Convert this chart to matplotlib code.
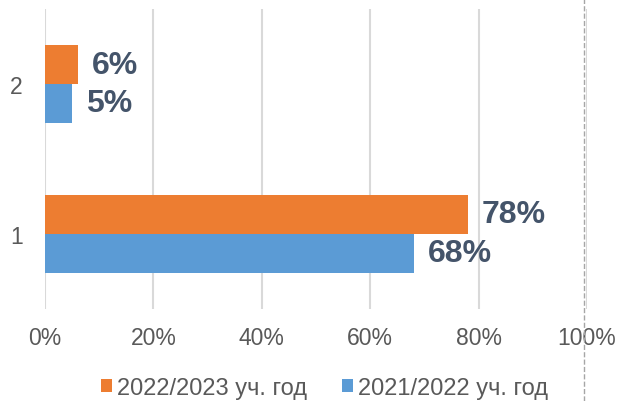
import matplotlib.pyplot as plt
from matplotlib.lines import Line2D

categories = ['1', '2']
vals_2022 = [78, 6]   # 2022/2023 уч. год
vals_2021 = [68, 5]   # 2021/2022 уч. год
labels = ['2022/2023 уч. год', '2021/2022 уч. год']
colors = ['#ED7D31', '#5B9BD5']

plt.rcParams['font.family'] = ['Liberation Sans', 'DejaVu Sans']

fig = plt.figure(figsize=(6.2, 4.02), dpi=100)
ax = fig.add_axes([45 / 620, 1 - 310 / 402, 542 / 620, 300 / 402])

y = range(len(categories))
h = 0.26
b1 = ax.barh([i + h / 2 for i in y], vals_2022, height=h, color=colors[0], label=labels[0], zorder=3)
b2 = ax.barh([i - h / 2 for i in y], vals_2021, height=h, color=colors[1], label=labels[1], zorder=3)

for bars, vals in ((b1, vals_2022), (b2, vals_2021)):
    for bar, v in zip(bars, vals):
        ax.annotate(f'{v}%', (bar.get_width(), bar.get_y() + bar.get_height() / 2),
                    xytext=(10, 0), textcoords='offset points', va='center', ha='left',
                    fontsize=23, fontweight='bold', color='#44546A')

ax.set_xlim(0, 100)
ax.set_ylim(-0.5, 1.5)
ax.set_xticks(range(0, 101, 20))
ax.set_xticklabels([f'{t}%' for t in range(0, 101, 20)])
ax.set_yticks(list(y))
ax.set_yticklabels(categories)
ax.tick_params(length=0, labelsize=16.5, labelcolor='#595959')
ax.tick_params(axis='x', pad=12)
ax.tick_params(axis='y', pad=16)
ax.grid(axis='x', color='#D9D9D9', linewidth=1.5, zorder=0)
for s in ax.spines.values():
    s.set_visible(False)

fig.legend(handles=[b1, b2], loc='center', bbox_to_anchor=(0.523, 1 - 389 / 402), ncol=2,
           frameon=False, fontsize=17, labelcolor='#595959', handlelength=0.47, handleheight=0.47,
           handletextpad=0.2, columnspacing=1.5, borderpad=0, borderaxespad=0)

fig.add_artist(Line2D([584 / 620, 584 / 620], [0, 1], transform=fig.transFigure,
                      color='#A6A6A6', linestyle='--', linewidth=1))

fig.savefig('out.png', dpi=100)
